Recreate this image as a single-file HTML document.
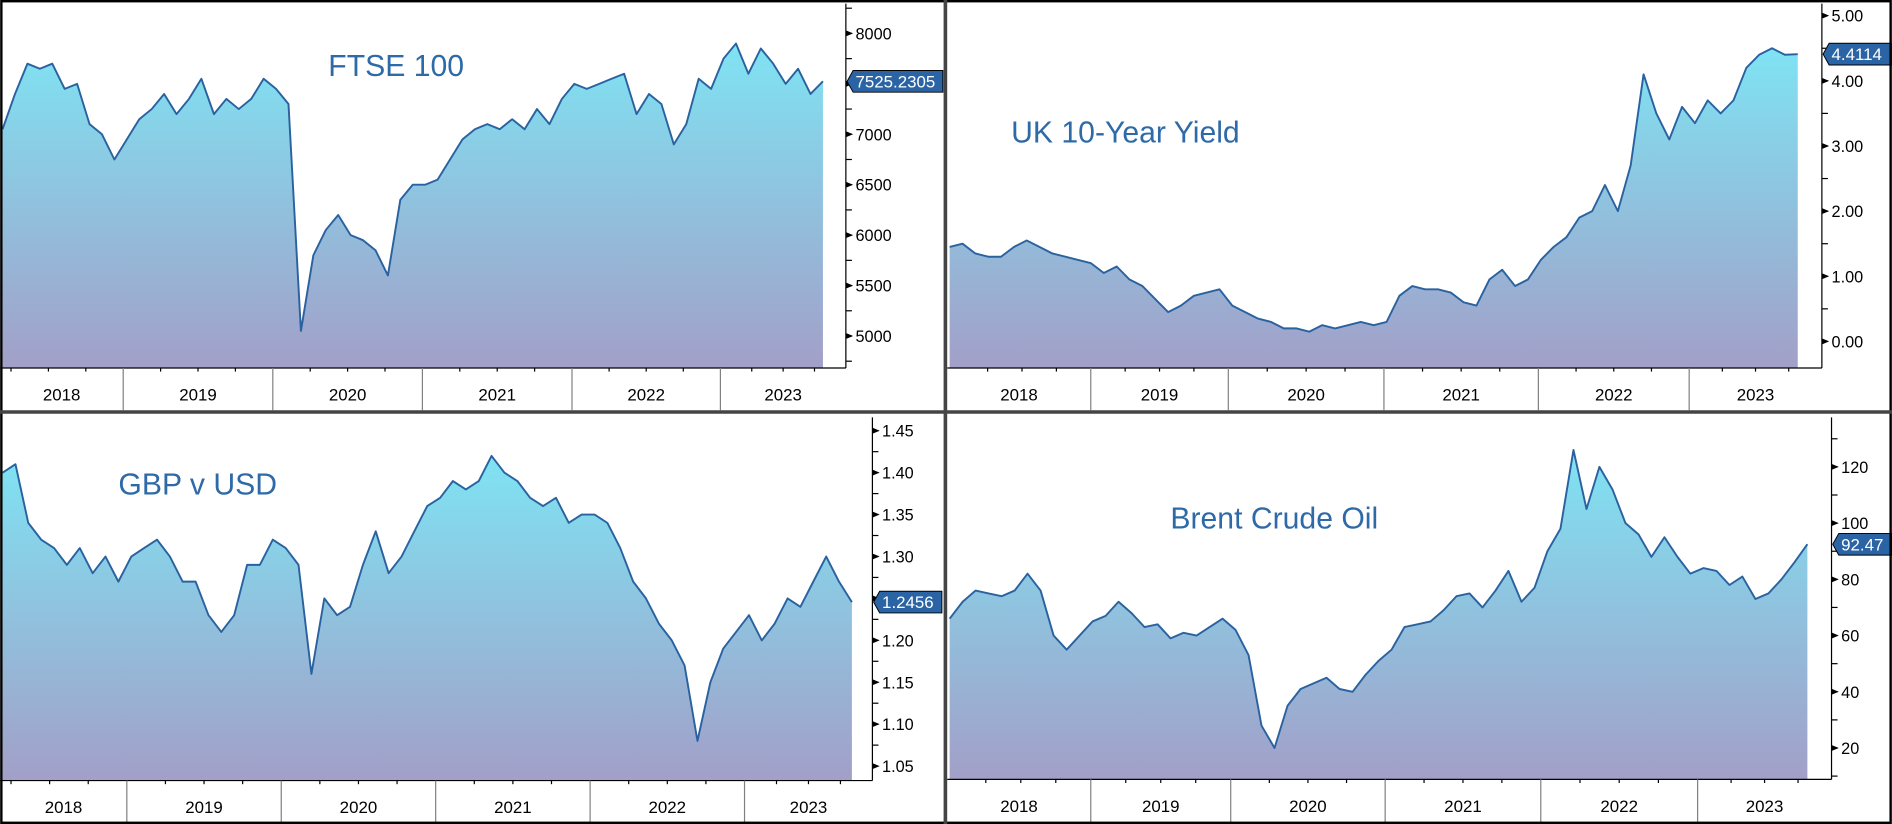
<!DOCTYPE html>
<html><head><meta charset="utf-8"><style>
html,body{margin:0;padding:0;background:#fff;overflow:hidden}
svg{display:block;font-family:"Liberation Sans",sans-serif}
</style></head><body>
<svg id="c" width="1892" height="824" viewBox="0 0 1568 683" xmlns="http://www.w3.org/2000/svg">
<defs>
<linearGradient id="g" x1="0" y1="0" x2="0" y2="1">
<stop offset="0" stop-color="#7fe3f3"/><stop offset="1" stop-color="#a29fc8"/>
</linearGradient>
</defs>
</svg>
<script>
const ftseValues=[7050,7400,7700,7650,7700,7450,7500,7100,7000,6750,
6950,7150,7250,7400,7200,7350,7550,7200,7350,7250,7350,7550,
7450,7300,5050,5800,6050,6200,6000,5950,5850,5600,6350,6500,
6500,6550,6750,6950,7050,7100,7050,7150,7050,7250,7100,7350,
7500,7450,7500,7550,7600,7200,7400,7300,6900,7100,7550,7450,
7750,7900,7600,7850,7700,7500,7650,7400,7525];
const giltValues=[1.45,1.50,1.35,1.30,1.30,1.45,1.55,1.45,1.35,1.30,
1.25,1.20,1.05,1.15,0.95,0.85,0.65,0.45,0.55,0.70,0.75,0.80,
0.55,0.45,0.35,0.30,0.20,0.20,0.15,0.25,0.20,0.25,0.30,0.25,
0.30,0.70,0.85,0.80,0.80,0.75,0.60,0.55,0.95,1.10,0.85,0.95,
1.25,1.45,1.60,1.90,2.00,2.40,2.00,2.70,4.10,3.50,3.10,3.60,
3.35,3.70,3.50,3.70,4.20,4.40,4.50,4.40,4.41];
const gbpValues=[1.40,1.41,1.34,1.32,1.31,1.29,1.31,1.28,1.30,1.27,
1.30,1.31,1.32,1.30,1.27,1.27,1.23,1.21,1.23,1.29,1.29,1.32,
1.31,1.29,1.16,1.25,1.23,1.24,1.29,1.33,1.28,1.30,1.33,1.36,
1.37,1.39,1.38,1.39,1.42,1.40,1.39,1.37,1.36,1.37,1.34,1.35,
1.35,1.34,1.31,1.27,1.25,1.22,1.20,1.17,1.08,1.15,1.19,1.21,
1.23,1.20,1.22,1.25,1.24,1.27,1.30,1.27,1.2456];
const brentValues=[66,72,76,75,74,76,82,76,60,55,
60,65,67,72,68,63,64,59,61,60,63,66,
62,53,28,20,35,41,43,45,41,40,46,51,
55,63,64,65,69,74,75,70,76,83,72,77,
90,98,126,105,120,112,100,96,88,95,88,82,
84,83,78,81,73,75,80,86,92.47];
const yearLabels=["2018","2019","2020","2021","2022","2023"];
const ftseTicks=[5000,5500,6000,6500,7000,7500,8000];
const giltTicks=[0,1,2,3,4,5];
const gbpTicks=[1.05,1.10,1.15,1.20,1.25,1.30,1.35,1.40,1.45];
const brentTicks=[20,40,60,80,100,120];
const tags=["7525.2305","4.4114","1.2456","92.47"];

const NS="http://www.w3.org/2000/svg";
const svg=document.getElementById('c');
function el(t,a,p){const e=document.createElementNS(NS,t);for(const k in a)e.setAttribute(k,a[k]);(p||svg).appendChild(e);return e;}

const panels=[
 {name:'ftse',title:'FTSE 100',tx:272,ty:63,x0:0,x1:782,y0:0,y1:340,px0:2,pxEnd:682,axis:701,bottom:305,top:3,v0:5000,y0v:278.5,v1:8000,y1v:27.7,seps:[102,226,350,474,597],data:ftseValues,ticks:ftseTicks,fmt:v=>String(v),tag:tags[0]},
 {name:'uk-10y',title:'UK 10-Year Yield',tx:838,ty:118,x0:785,x1:1568,y0:0,y1:340,px0:787,pxEnd:1490,axis:1510,bottom:305,top:3,v0:0,y0v:283,v1:5,y1v:13,seps:[904,1018,1147,1275,1400],data:giltValues,ticks:giltTicks,fmt:v=>v.toFixed(2),tag:tags[1]},
 {name:'gbp-usd',title:'GBP v USD',tx:98,ty:410,x0:0,x1:782,y0:343,y1:683,px0:2,pxEnd:706,axis:723,bottom:647,top:346,v0:1.05,y0v:635,v1:1.45,y1v:357,seps:[105,233,361,489,617],data:gbpValues,ticks:gbpTicks,fmt:v=>v.toFixed(2),tag:tags[2]},
 {name:'brent',title:'Brent Crude Oil',tx:970,ty:438,x0:785,x1:1568,y0:343,y1:683,px0:787,pxEnd:1498,axis:1518,bottom:646,top:346,v0:20,y0v:620,v1:120,y1v:387,seps:[904,1020,1148,1277,1407],data:brentValues,ticks:brentTicks,fmt:v=>String(v),tag:tags[3]}
];

panels.forEach(p=>{
 const g=el('g',{});
 
 
 const yS=v=>p.y0v+(v-p.v0)*(p.y1v-p.y0v)/(p.v1-p.v0);
 const n=p.data.length;
 const xS=i=>p.px0+i*(p.pxEnd-p.px0)/(n-1);
 let d='';
 p.data.forEach((v,i)=>{d+=(i?'L':'M')+xS(i).toFixed(1)+' '+yS(v).toFixed(1);});
 const area=el('path',{d:d+'L'+xS(n-1)+' '+p.bottom+'L'+xS(0)+' '+p.bottom+'Z',fill:'url(#g)'},g);
 
 
 const line=el('path',{d:d,fill:'none',stroke:'#2a62a0','stroke-width':1.6,'stroke-linejoin':'round'},g);
 
 
 el('line',{x1:p.axis,y1:p.top,x2:p.axis,y2:p.bottom,stroke:'#000','stroke-width':1},g);
 el('line',{x1:p.x0,y1:p.bottom,x2:p.axis,y2:p.bottom,stroke:'#000','stroke-width':1},g);
 const step=p.ticks[1]-p.ticks[0];
 for(let v=p.ticks[0]-step/2;v<=p.ticks[p.ticks.length-1]+step/2+1e-9;v+=step/2){
  const y=yS(v); if(y<p.top||y>p.bottom)continue;
  el('line',{x1:p.axis,y1:y,x2:p.axis+5,y2:y,stroke:'#000','stroke-width':1},g);
 }
 p.ticks.forEach(v=>{
  const y=yS(v);
  el('path',{d:`M${p.axis} ${y-2.5}L${p.axis+6} ${y}L${p.axis} ${y+2.5}Z`,fill:'#000'},g);
  const t=el('text',{x:p.axis+8,y:y+5,'font-size':13.5,fill:'#000'},g);
  t.textContent=p.fmt(v);
  
  
 });
 const ly=yS(p.data[n-1]);
 const tw=p.tag.length*7.6+6;
 el('path',{d:`M${p.axis+1} ${ly}L${p.axis+6} ${ly-9}L${p.axis+6+tw} ${ly-9}L${p.axis+6+tw} ${ly+9}L${p.axis+6} ${ly+9}Z`,fill:'#2a64a4',stroke:'#000','stroke-width':0.8},g);
 const tt=el('text',{x:p.axis+8,y:ly+5,'font-size':14,fill:'#fff'},g);
 tt.textContent=p.tag;
 
 
 const bounds=[p.x0].concat(p.seps,[p.axis]);
 p.seps.forEach(x=>el('line',{x1:x,y1:p.bottom,x2:x,y2:p.y1,stroke:'#808080','stroke-width':1},g));
 for(let k=0;k<6;k++){
  const a=bounds[k],b=bounds[k+1];
  const yw=(k===0)?(p.seps[1]-p.seps[0]):(b-a);
  const start=(k===0)?b-yw:a;
  for(let q=1;q<4;q++){const x=start+q*yw/4; if(x>a+2&&x<b-2) el('line',{x1:x,y1:p.bottom,x2:x,y2:p.bottom+3,stroke:'#000'},g);}
  const t=el('text',{x:(a+b)/2,y:p.bottom+27,'font-size':14,'text-anchor':'middle',fill:'#000'},g);
  t.textContent=yearLabels[k];
  
  
 }
 const ti=el('text',{x:p.tx,y:p.ty,'font-size':25,fill:'#2e6aa8'},g);
 ti.textContent=p.title;
 
 
});
el('rect',{x:1,y:1,width:1566,height:681,fill:'none',stroke:'#000','stroke-width':2});
el('line',{x1:783.5,y1:0,x2:783.5,y2:683,stroke:'#444','stroke-width':3});
el('line',{x1:0,y1:341.5,x2:1568,y2:341.5,stroke:'#444','stroke-width':3});
</script>
</body></html>
